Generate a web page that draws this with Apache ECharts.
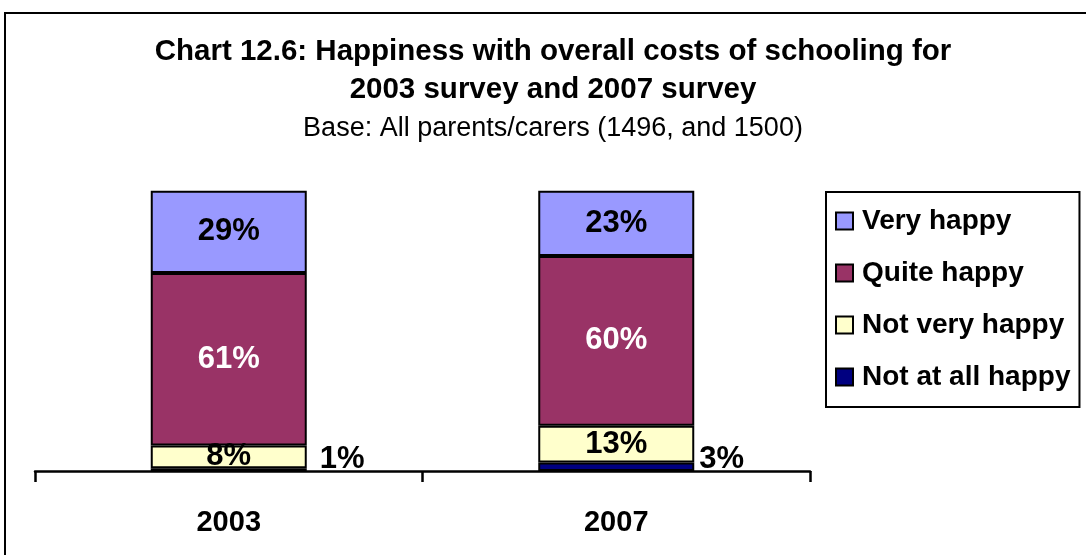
<!DOCTYPE html>
<html>
<head>
<meta charset="utf-8">
<script src="https://cdn.jsdelivr.net/npm/echarts@6/dist/echarts.min.js"></script>
<style>
  html, body { margin: 0; padding: 0; background: #fff; }
  #chart { width: 1086px; height: 555px; }
</style>
</head>
<body>
<div id="chart"></div>
<script>
var years = ["2003", "2007"];
var notAtAll = [1, 3];
var notVery = [8, 13];
var quite = [61, 60];
var very = [29, 23];

var font = "Liberation Sans, Arial, sans-serif";

var chart = echarts.init(document.getElementById("chart"));

function bar(name, data, color, labelColor) {
  return {
    name: name,
    type: "bar",
    stack: "total",
    barWidth: 156,
    data: data,
    itemStyle: { color: color, borderColor: "#000", borderWidth: 2 },
    label: {
      show: true,
      position: "inside",
      formatter: "{c}%",
      color: labelColor,
      fontFamily: font,
      fontWeight: "bold",
      fontSize: 31
    }
  };
}

var bottomSeries = bar("Not at all happy", notAtAll.map(function (v, i) {
  // small segments: label sits to the right of the bar
  return {
    value: v,
    label: { position: "right", offset: i === 0 ? [8, -10] : [0, -7] }
  };
}), "#000080", "#000");

chart.setOption({
  backgroundColor: "#fff",
  animation: false,
  graphic: [{
    type: "rect",
    shape: { x: 5, y: 13, width: 1200, height: 700 },
    style: { fill: null, stroke: "#000", lineWidth: 2 },
    silent: true
  }],
  title: {
    text: "Chart 12.6: Happiness with overall costs of schooling for\n2003 survey and 2007 survey",
    subtext: "Base: All parents/carers (1496, and 1500)",
    left: 548,
    textAlign: "center",
    top: 28,
    itemGap: 1,
    textStyle: { fontFamily: font, fontWeight: "bold", fontSize: 29.5, lineHeight: 38, color: "#000" },
    subtextStyle: { fontFamily: font, fontSize: 27, lineHeight: 38, color: "#000" }
  },
  legend: {
    orient: "vertical",
    left: 826,
    top: 192,
    padding: [15, 9, 16, 9],
    itemGap: 24,
    itemWidth: 17,
    itemHeight: 17,
    icon: "rect",
    borderColor: "#000",
    borderWidth: 2,
    data: ["Very happy", "Quite happy", "Not very happy", "Not at all happy"],
    textStyle: { fontFamily: font, fontWeight: "bold", fontSize: 28, lineHeight: 28, color: "#000", padding: [0, 0, 0, 4] }
  },
  grid: { left: 35, right: 276, top: 188, bottom: 84 },
  xAxis: {
    type: "category",
    data: years,
    axisLine: { lineStyle: { color: "#000", width: 2.5 } },
    axisTick: { show: true, length: 11, lineStyle: { color: "#000", width: 2.5 } },
    axisLabel: { margin: 37, color: "#000", fontFamily: font, fontWeight: "bold", fontSize: 29 }
  },
  yAxis: { type: "value", min: 0, max: 100, show: false },
  series: [
    bottomSeries,
    bar("Not very happy", notVery, "#FFFFCC", "#000"),
    bar("Quite happy", quite, "#993366", "#fff"),
    bar("Very happy", very, "#9999FF", "#000")
  ]
});
</script>
</body>
</html>
